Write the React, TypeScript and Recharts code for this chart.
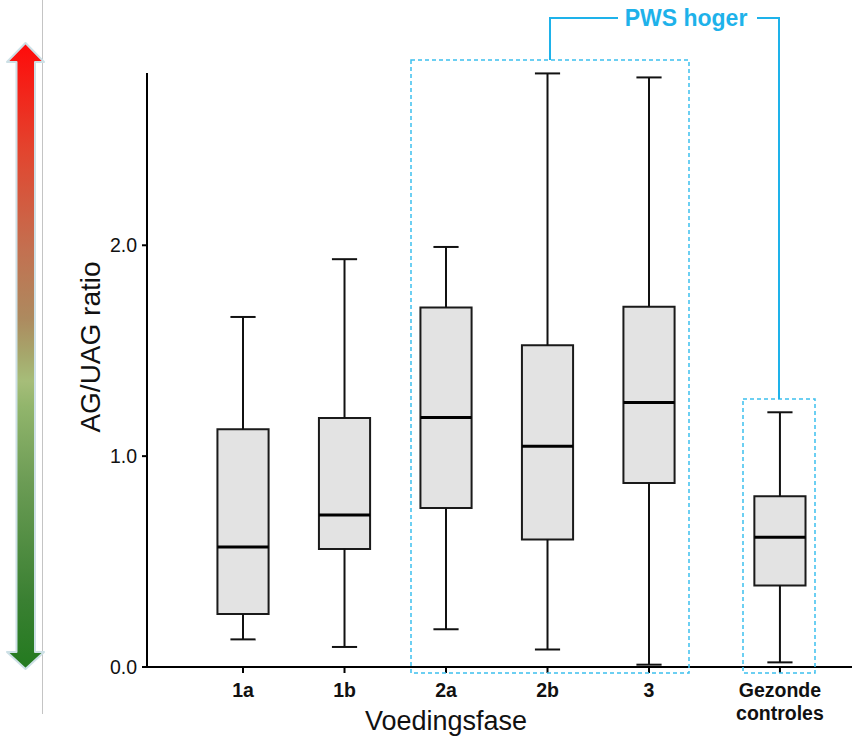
import { ComposedChart, ReferenceArea, ReferenceLine, Scatter, XAxis, YAxis } from "recharts";

const categories = ["1a", "1b", "2a", "2b", "3", "Gezonde controles"];
const mins = [0.131, 0.095, 0.179, 0.083, 0.011, 0.022];
const q1s = [0.251, 0.56, 0.754, 0.605, 0.873, 0.387];
const medians = [0.569, 0.721, 1.183, 1.047, 1.254, 0.615];
const q3s = [1.127, 1.181, 1.705, 1.526, 1.709, 0.81];
const maxs = [1.66, 1.934, 1.992, 2.815, 2.796, 1.208];
const yTicks = [0, 1, 2];

// category slots on the numeric x axis (controls sit a bit further out)
const xSlots = [1, 2, 3, 4, 5, 6.29];
const BOX_HALF = 0.252;
const CAP_HALF = 0.124;

const FONT = '"Liberation Sans", Arial, sans-serif';
const BLUE = "#1eb2ea";

const boxes = categories.map((name, i) => ({
  name,
  x: xSlots[i],
  min: mins[i],
  q1: q1s[i],
  median: medians[i],
  q3: q3s[i],
  max: maxs[i],
}));

function CategoryTick({ x, y, payload }: any) {
  const i = xSlots.indexOf(payload.value);
  const lines = i >= 0 ? categories[i].split(" ") : [];
  return (
    <text textAnchor="middle" fontWeight="bold" fontSize={19.5} fill="#111" fontFamily={FONT}>
      {lines.map((l, k) => (
        <tspan key={k} x={x} y={y + 22 + k * 23}>
          {l}
        </tspan>
      ))}
    </text>
  );
}

function MedianMark({ cx, cy }: any) {
  return <line x1={cx - 25.5} x2={cx + 25.5} y1={cy} y2={cy} stroke="#000" strokeWidth={3} />;
}

function Overlay() {
  return (
    <svg
      width={852}
      height={739}
      style={{ position: "absolute", left: 0, top: 0, pointerEvents: "none" }}
    >
      <defs>
        <linearGradient id="scale" x1="0" y1="43" x2="0" y2="669" gradientUnits="userSpaceOnUse">
          <stop offset="0" stopColor="#ff0a0a" />
          <stop offset="0.17" stopColor="#e3442e" />
          <stop offset="0.33" stopColor="#c37050" />
          <stop offset="0.44" stopColor="#ad8a5f" />
          <stop offset="0.5" stopColor="#a6a86c" />
          <stop offset="0.54" stopColor="#a6bd79" />
          <stop offset="0.58" stopColor="#92b56c" />
          <stop offset="0.7" stopColor="#6c9c55" />
          <stop offset="0.89" stopColor="#3a8032" />
          <stop offset="1" stopColor="#237a1f" />
        </linearGradient>
      </defs>
      <line x1={42.5} y1={0} x2={42.5} y2={714} stroke="#c4c4c4" strokeWidth={1} />
      <polygon
        points="25.5,43 44,62 35,62 35,652 44,652 25.5,669 7,652 16.5,652 16.5,62 7,62"
        fill="url(#scale)"
        stroke="#cde0e6"
        strokeWidth={2}
        strokeLinejoin="round"
      />
      <rect x={411} y={60} width={278} height={613} fill="none" stroke="#3cc0ee" strokeWidth={1.5} strokeDasharray="4 3" />
      <rect x={743} y={399} width={72} height={274} fill="none" stroke="#3cc0ee" strokeWidth={1.5} strokeDasharray="4 3" />
      <polyline points="550,60 550,18 618,18" fill="none" stroke={BLUE} strokeWidth={2} />
      <polyline points="757,18 779,18 779,399" fill="none" stroke={BLUE} strokeWidth={2} />
      <text x={686} y={26} textAnchor="middle" fontSize={23} fontWeight="bold" fill={BLUE} fontFamily={FONT}>
        PWS hoger
      </text>
    </svg>
  );
}

export default function App() {
  return (
    <div style={{ position: "absolute", left: 0, top: 0, width: 852, height: 739, background: "#fff", fontFamily: FONT }}>
      <ComposedChart width={852} height={739} data={boxes} margin={{ top: 73, right: 0, bottom: 0, left: 0 }}>
        <XAxis
          type="number"
          dataKey="x"
          domain={[0.054, 7.0]}
          allowDataOverflow
          ticks={xSlots}
          tick={<CategoryTick />}
          height={72}
          tickSize={6}
          axisLine={{ stroke: "#000", strokeWidth: 2 }}
          tickLine={{ stroke: "#000", strokeWidth: 2 }}
          label={{
            content: ({ viewBox }: any) => (
              <text x={viewBox.x + 299} y={viewBox.y + 63} textAnchor="middle" fontSize={27} fill="#111" fontFamily={FONT}>
                Voedingsfase
              </text>
            ),
          }}
        />
        <YAxis
          type="number"
          domain={[0, 2.817]}
          allowDataOverflow
          ticks={yTicks}
          tickFormatter={(v: number) => v.toFixed(1)}
          width={147}
          tickSize={5}
          tickMargin={5}
          tick={{ fill: "#111", fontSize: 19.5, fontFamily: FONT }}
          axisLine={{ stroke: "#000", strokeWidth: 2 }}
          tickLine={{ stroke: "#000", strokeWidth: 2 }}
          label={{
            content: ({ viewBox }: any) => {
              const cx = viewBox.x + 100;
              const cy = 347;
              return (
                <text
                  x={cx}
                  y={cy}
                  transform={`rotate(-90, ${cx}, ${cy})`}
                  textAnchor="middle"
                  fontSize={28}
                  fill="#111"
                  fontFamily={FONT}
                >
                  AG/UAG ratio
                </text>
              );
            },
          }}
        />
        {boxes.map((b) => (
          <ReferenceLine
            key={`lw-${b.name}`}
            segment={[{ x: b.x, y: b.min }, { x: b.x, y: b.q1 }]}
            stroke="#111"
            strokeWidth={2}
          />
        ))}
        {boxes.map((b) => (
          <ReferenceLine
            key={`uw-${b.name}`}
            segment={[{ x: b.x, y: b.q3 }, { x: b.x, y: b.max }]}
            stroke="#111"
            strokeWidth={2}
          />
        ))}
        {boxes.map((b) => (
          <ReferenceLine
            key={`lc-${b.name}`}
            segment={[{ x: b.x - CAP_HALF, y: b.min }, { x: b.x + CAP_HALF, y: b.min }]}
            stroke="#111"
            strokeWidth={2}
          />
        ))}
        {boxes.map((b) => (
          <ReferenceLine
            key={`uc-${b.name}`}
            segment={[{ x: b.x - CAP_HALF, y: b.max }, { x: b.x + CAP_HALF, y: b.max }]}
            stroke="#111"
            strokeWidth={2}
          />
        ))}
        {boxes.map((b) => (
          <ReferenceArea
            key={`box-${b.name}`}
            x1={b.x - BOX_HALF}
            x2={b.x + BOX_HALF}
            y1={b.q1}
            y2={b.q3}
            fill="#e3e3e3"
            fillOpacity={1}
            stroke="#1a1a1a"
            strokeWidth={2}
          />
        ))}
        <Scatter dataKey="median" shape={<MedianMark />} isAnimationActive={false} />
      </ComposedChart>
      <Overlay />
    </div>
  );
}
